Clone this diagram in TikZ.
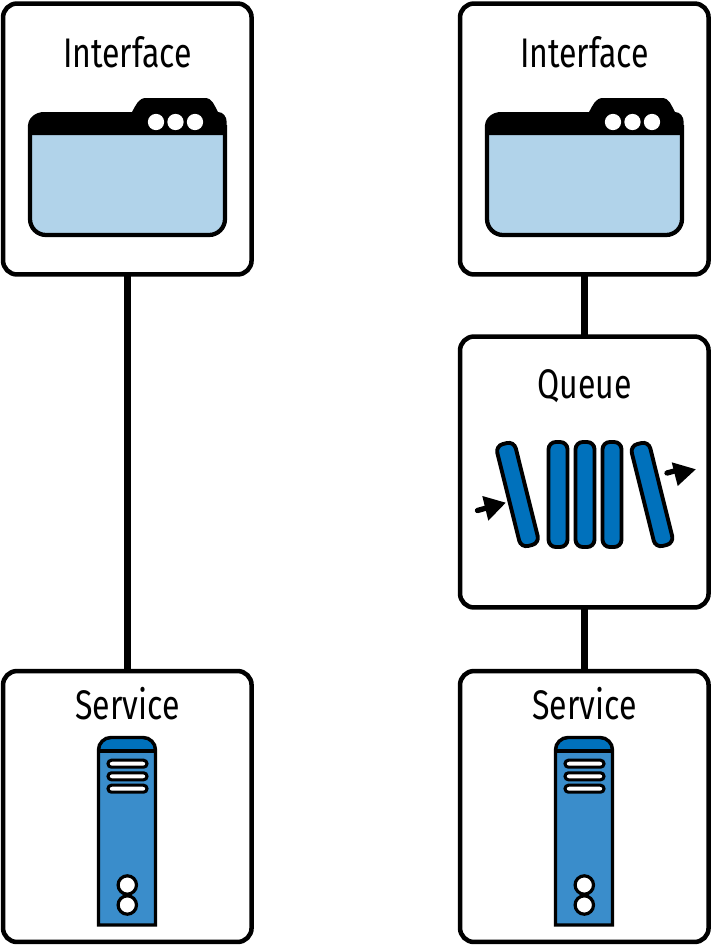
\documentclass[tikz,border=0pt]{standalone}
\usepackage{fontspec}
\setmainfont[FakeStretch=0.775]{Fira Sans}
\definecolor{winblue}{HTML}{B1D3EA}
\definecolor{barblue}{HTML}{0071BC}
\definecolor{srvblue}{HTML}{3A8DCB}
\tikzset{
  card/.style={draw=black,line width=3.4pt,rounded corners=10.5pt,fill=white,minimum width=186.4pt,minimum height=203.2pt,inner sep=0pt,outer sep=0pt},
  cardlabel/.style={anchor=base,inner sep=0pt,font=\fontsize{31pt}{31pt}\selectfont},
  wire/.style={line width=4.8pt,draw=black},
  bar/.style={draw=black,line width=2.9pt,fill=barblue,rounded corners=5.5pt},
  slot/.style={draw=black,line width=2.3pt,fill=white,rounded corners=2.6pt},
  knob/.style={draw=black,line width=2.4pt,fill=white},
  dot/.style={fill=white,draw=none},
  flow/.style={line width=4pt,line cap=round,draw=black},
  flowhead/.style={fill=black,draw=none}
}
\newcommand{\windowicon}[1]{%
  \begin{scope}[xshift=#1*0.75pt]
    \fill[winblue,rounded corners=12pt] (30,125) rectangle (225,235);
    \draw[black,line width=3.2pt,rounded corners=12pt] (30,125) -- (30,235) -- (225,235) -- (225,125);
    \fill[black] (28,135) -- (28,126) to[out=90,in=180] (44,112) -- (132,112) to[out=60,in=180] (146,98) -- (205,98) to[out=0,in=120] (218,112) to[out=0,in=90] (226.7,122) -- (226.7,135) -- cycle;
    \fill[dot] (156,122) circle[radius=6.1pt] (175.5,122) circle[radius=6.1pt] (195,122) circle[radius=6.1pt];
  \end{scope}}
\newcommand{\servericon}[1]{%
  \begin{scope}[xshift=#1*0.75pt]
    \fill[srvblue] (98.5,751) rectangle (155.5,925);
    \fill[barblue] (98.5,751) -- (98.5,750) to[out=90,in=180] (111,737.5) -- (143,737.5) to[out=0,in=90] (155.5,750) -- (155.5,751) -- cycle;
    \draw[black,line width=2.4pt] (98.5,751) -- (155.5,751);
    \draw[black,line width=2.6pt,line join=miter] (98.5,925) -- (98.5,750) to[out=90,in=180] (111,737.5) -- (143,737.5) to[out=0,in=90] (155.5,750) -- (155.5,925) -- cycle;
    \draw[slot] (108,760.2) rectangle (147,767.2);
    \draw[slot] (108,772.8) rectangle (147,779.8);
    \draw[slot] (108,785.2) rectangle (147,792.2);
    \draw[knob] (127.3,885) circle[radius=6.9pt];
    \draw[knob] (127.3,905) circle[radius=6.9pt];
  \end{scope}}
\begin{document}
\begin{tikzpicture}[x=0.75pt,y=-0.75pt]
\useasboundingbox (0,0) rectangle (712,946);
% connectors
\node[card] (ifaceL) at (127.3,139) {};
\node[card] (svcL) at (127.3,806.5) {};
\node[card] (ifaceR) at (584.3,139) {};
\node[card] (queue) at (584.3,472) {};
\node[card] (svcR) at (584.3,806.5) {};
\draw[wire] (ifaceL) -- (svcL);
\draw[wire] (ifaceR) -- (queue);
\draw[wire] (queue) -- (svcR);
% labels
\node[cardlabel] (t1) at (127.5,67) {Interface};
\node[cardlabel] (t2) at (584.5,67) {Interface};
\node[cardlabel] (t3) at (584.5,398) {Queue};
\node[cardlabel] (t4) at (127.5,719) {Service};
\node[cardlabel] (t5) at (584.5,719) {Service};
% icons
\windowicon{0}
\windowicon{457}
\servericon{0}
\servericon{457}
% queue bars
\foreach \cx/\ang in {517.5/14,558/0,585/0,612/0,652/14}{
  \draw[bar,rotate around={\ang:(\cx,494.5)}] (\cx-9.5,442) rectangle (\cx+9.5,547);
}
% queue arrows
\draw[flow] (477.5,510.5) -- (490,507);
\fill[flowhead] (505.7,502.7) -- (482.3,496) -- (488.3,520.7) -- cycle;
\draw[flow] (667,473) -- (680,469.5);
\fill[flowhead] (695.7,469.3) -- (671.7,462.3) -- (677.7,486) -- cycle;
\end{tikzpicture}
\end{document}
